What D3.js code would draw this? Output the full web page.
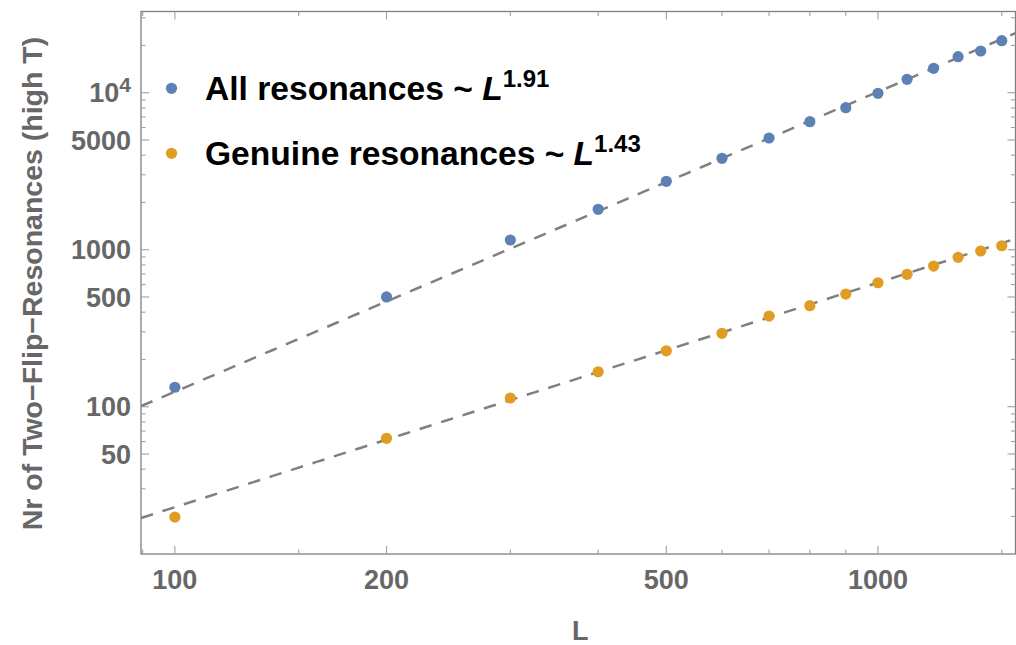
<!DOCTYPE html>
<html>
<head>
<meta charset="utf-8">
<script src="https://cdn.jsdelivr.net/npm/d3@7"></script>
<style>
  html, body { margin: 0; padding: 0; background: #fff; }
  svg { display: block; font-family: "Liberation Sans", Arial, sans-serif; }
</style>
</head>
<body>
<svg id="chart" width="1016" height="645"></svg>
<script>
// ---- data ----
const L = [100, 200, 300, 400, 500, 600, 700, 800, 900, 1000, 1100, 1200, 1300, 1400, 1500];
const allRes = [133, 500, 1153, 1808, 2727, 3821, 5146, 6535, 8027, 9913, 12170, 14300, 16960, 18430, 21440];
const genuineRes = [19.8, 62.9, 113.6, 167, 227, 293.5, 378, 440, 522, 616, 697, 787, 894, 981, 1060];
const fitAll = { exponent: 1.91, log10Prefactor: -1.7246 };
const fitGenuine = { exponent: 1.43, log10Prefactor: -1.500 };
const xMajorTicks = [100, 200, 500, 1000];
const xMinorTicks = [90, 150, 300, 400, 600, 700, 800, 900, 1500];
const yMajorTicks = [50, 100, 500, 1000, 5000, 10000];
const yMinorTicks = [20, 30, 40, 60, 70, 80, 90, 200, 300, 400, 600, 700, 800, 900,
                     2000, 3000, 4000, 6000, 7000, 8000, 9000, 20000, 30000];
const legendItems = [
  { label: "All resonances ~ ", exp: "1.91" },
  { label: "Genuine resonances ~ ", exp: "1.43" }
];
const colors = ["#5E81B5", "#E19C24"];

// ---- layout ----
const svg = d3.select("#chart");
const pLeft = 141, pRight = 1015.5, pTop = 11.5, pBottom = 554;
const x = d3.scaleLog().domain([89.5, 1569]).range([pLeft, pRight]);
const y = d3.scaleLog().domain([11.53, 32900]).range([pBottom, pTop]);

const frameColor = "#7f7f7f";
const tickColor = "#a0a0a0";
const labelColor = "#676767";

// frame
svg.append("rect")
  .attr("x", pLeft).attr("y", pTop)
  .attr("width", pRight - pLeft).attr("height", pBottom - pTop)
  .attr("fill", "none").attr("stroke", frameColor).attr("stroke-width", 1.3);

// ticks
const gT = svg.append("g").attr("stroke", tickColor).attr("stroke-width", 1.1);
function xTicks(vals, len) {
  vals.forEach(v => {
    const px = x(v);
    gT.append("line").attr("x1", px).attr("x2", px).attr("y1", pBottom).attr("y2", pBottom - len);
    gT.append("line").attr("x1", px).attr("x2", px).attr("y1", pTop).attr("y2", pTop + len);
  });
}
function yTicks(vals, len) {
  vals.forEach(v => {
    const py = y(v);
    gT.append("line").attr("x1", pLeft).attr("x2", pLeft + len).attr("y1", py).attr("y2", py);
    gT.append("line").attr("x1", pRight).attr("x2", pRight - len).attr("y1", py).attr("y2", py);
  });
}
xTicks(xMajorTicks, 8); xTicks(xMinorTicks, 4.5);
yTicks(yMajorTicks, 8); yTicks(yMinorTicks, 4.5);

// tick labels
const xl = svg.append("g").attr("fill", labelColor).attr("font-weight", "bold").attr("font-size", 27);
xMajorTicks.forEach(v => {
  xl.append("text").attr("x", x(v)).attr("y", 589).attr("text-anchor", "middle").text(v);
});
const yl = svg.append("g").attr("fill", labelColor).attr("font-weight", "bold").attr("font-size", 27);
yMajorTicks.forEach(v => {
  const t = yl.append("text").attr("x", 131).attr("y", y(v) + 9.6).attr("text-anchor", "end");
  if (v === 10000) {
    t.append("tspan").text("10");
    t.append("tspan").attr("font-size", 21).attr("dy", -10).text("4");
  } else {
    t.text(v);
  }
});

// axis titles
svg.append("text").attr("x", (pLeft + pRight) / 2 + 2).attr("y", 640)
  .attr("text-anchor", "middle").attr("fill", labelColor)
  .attr("font-weight", "bold").attr("font-size", 27).text("L");
svg.append("text").attr("transform", "translate(42," + 283.5 + ") rotate(-90)")
  .attr("text-anchor", "middle").attr("fill", labelColor)
  .attr("font-weight", "bold").attr("font-size", 28.5)
  .text("Nr of Two\u2212Flip\u2212Resonances (high T)");

// clip
svg.append("clipPath").attr("id", "clip").append("rect")
  .attr("x", pLeft).attr("y", pTop).attr("width", pRight - pLeft).attr("height", pBottom - pTop);
const plot = svg.append("g").attr("clip-path", "url(#clip)");

// fit lines
const xDom = x.domain();
[fitAll, fitGenuine].forEach(f => {
  const pts = d3.range(0, 41).map(i => {
    const lx = Math.log10(xDom[0]) + i / 40 * (Math.log10(xDom[1]) - Math.log10(xDom[0]));
    const Lv = Math.pow(10, lx);
    return [Lv, Math.pow(10, f.log10Prefactor + f.exponent * lx)];
  });
  plot.append("path")
    .attr("d", d3.line().x(d => x(d[0])).y(d => y(d[1]))(pts))
    .attr("fill", "none").attr("stroke", "#808080").attr("stroke-width", 2.5)
    .attr("stroke-dasharray", "12.5,10");
});

// points
[allRes, genuineRes].forEach((series, si) => {
  plot.append("g").selectAll("circle").data(L).join("circle")
    .attr("cx", d => x(d)).attr("cy", (d, i) => y(series[i]))
    .attr("r", 5.6).attr("fill", colors[si]);
});

// legend
const legY = [88.3, 153.3];
legendItems.forEach((it, i) => {
  svg.append("circle").attr("cx", 171.5).attr("cy", legY[i]).attr("r", 5.6).attr("fill", colors[i]);
  const t = svg.append("text").attr("x", 205).attr("y", legY[i] + 11.3)
    .attr("font-weight", "bold").attr("font-size", 33.6).attr("fill", "#000");
  t.append("tspan").text(it.label);
  t.append("tspan").attr("font-style", "italic").text("L");
  t.append("tspan").attr("font-size", 24).attr("dy", -13).text(it.exp);
});
</script>
</body>
</html>
